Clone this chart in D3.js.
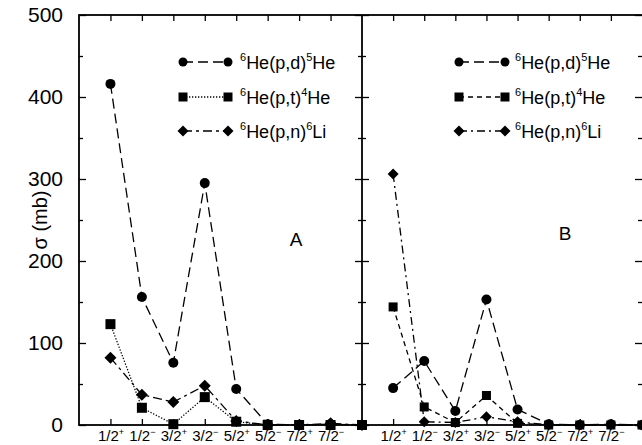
<!DOCTYPE html>
<html>
<head>
<meta charset="utf-8">
<script src="https://cdn.jsdelivr.net/npm/d3@7"></script>
<style>
  html, body { margin: 0; padding: 0; background: #fff; }
  svg { display: block; font-family: "Liberation Sans", Arial, sans-serif; }
</style>
</head>
<body>
<svg id="chart" width="642" height="445"></svg>
<script>
// spin-parity states on the x axis (number, parity)
var states = [["1/2", "+"], ["1/2", "-"], ["3/2", "+"], ["3/2", "-"],
              ["5/2", "+"], ["5/2", "-"], ["7/2", "+"], ["7/2", "-"]];

// panel A, cross sections in mb (last value sits on the panel border)
var pdA = [416, 156, 76, 295, 44, 1, 0, 1, 0];
var ptA = [123, 21, 1, 34, 4, 0, 0, 0, 0];
var pnA = [82, 37, 28, 48, 5, 0, 0, 2, 0];

// panel B
var pdB = [45, 78, 17, 153, 19, 1, 0, 1, 0];
var ptB = [144, 22, 3, 36, 2, 0, 0, 0, 0];
var pnB = [306, 4, 3, 10, 4, 0, 0, 0, 0];

var yMajor = [0, 100, 200, 300, 400, 500];
var yMinor = [50, 150, 250, 350, 450];

(function () {
  'use strict';

  var svg = d3.select('#chart');
  var top = 15, bottom = 425, left = 79, mid = 362, right = 642;

  var yScale = d3.scaleLinear().domain([0, 500]).range([bottom, top]);
  var xA = d3.scaleLinear().domain([0, 9]).range([left, mid]);
  var xB = d3.scaleLinear().domain([0, 9]).range([mid, right]);

  var tickPos = d3.range(1, states.length + 1);

  function drawPanelAxes(x, x0, x1) {
    svg.append('g')
      .attr('transform', 'translate(0,' + top + ')')
      .call(d3.axisTop(x).tickValues(tickPos).tickSize(-6).tickFormat(''));
    var bot = svg.append('g')
      .attr('transform', 'translate(0,' + bottom + ')')
      .call(d3.axisBottom(x).tickValues(tickPos).tickSize(-6).tickFormat(''));
    bot.selectAll('.tick').each(function (d) {
      var s = states[d - 1];
      var t = d3.select(this).append('text')
        .attr('y', 16)
        .attr('fill', '#000')
        .attr('font-size', 15)
        .attr('text-anchor', 'middle');
      t.append('tspan').text(s[0]);
      t.append('tspan').attr('font-size', 9).attr('dy', -6)
        .text(s[1] === '-' ? '\u2212' : '+');
    });
    // inward y ticks on both sides of the panel
    svg.append('g').attr('transform', 'translate(' + x0 + ',0)')
      .call(d3.axisLeft(yScale).tickValues(yMajor).tickSize(-7).tickFormat(''));
    svg.append('g').attr('transform', 'translate(' + x0 + ',0)')
      .call(d3.axisLeft(yScale).tickValues(yMinor).tickSize(-4).tickFormat(''));
    svg.append('g').attr('transform', 'translate(' + x1 + ',0)')
      .call(d3.axisRight(yScale).tickValues(yMajor).tickSize(-7).tickFormat(''));
    svg.append('g').attr('transform', 'translate(' + x1 + ',0)')
      .call(d3.axisRight(yScale).tickValues(yMinor).tickSize(-4).tickFormat(''));
  }

  drawPanelAxes(xA, left, mid);
  drawPanelAxes(xB, mid, right);

  svg.selectAll('.domain').remove();
  svg.selectAll('.tick line').attr('stroke', '#000').attr('stroke-width', 1.3);

  // y labels
  var ylab = svg.append('g').attr('transform', 'translate(' + left + ',0)')
    .call(d3.axisLeft(yScale).tickValues(yMajor).tickSize(0).tickPadding(16));
  ylab.select('.domain').remove();
  ylab.selectAll('text').attr('font-size', 21).attr('fill', '#000')
    .attr('font-family', '"Liberation Sans", Arial, sans-serif');

  svg.append('text')
    .attr('transform', 'translate(47,' + yScale(250) + ') rotate(-90)')
    .attr('text-anchor', 'middle')
    .attr('font-size', 20)
    .text('\u03c3 (mb)');

  // frame
  svg.append('rect')
    .attr('x', left).attr('y', top)
    .attr('width', right + 10 - left).attr('height', bottom - top)
    .attr('fill', 'none').attr('stroke', '#000').attr('stroke-width', 1.8);
  svg.append('line')
    .attr('x1', mid).attr('x2', mid).attr('y1', top).attr('y2', bottom)
    .attr('stroke', '#000').attr('stroke-width', 1.8);

  function marker(g, shape, cx, cy, size) {
    if (shape === 'circle') {
      g.append('circle').attr('cx', cx).attr('cy', cy).attr('r', size / 2);
    } else if (shape === 'square') {
      g.append('rect').attr('x', cx - size / 2).attr('y', cy - size / 2)
        .attr('width', size).attr('height', size);
    } else {
      var h = size / 2 + 1;
      g.append('path').attr('d', 'M' + cx + ',' + (cy - h) + 'L' + (cx + h) + ',' + cy +
        'L' + cx + ',' + (cy + h) + 'L' + (cx - h) + ',' + cy + 'Z');
    }
  }

  function drawSeries(x, values, shape, dash, size) {
    var lineFun = d3.line()
      .x(function (d, i) { return x(i + 1); })
      .y(function (d) { return yScale(d); });
    svg.append('path')
      .datum(values)
      .attr('d', lineFun)
      .attr('fill', 'none')
      .attr('stroke', '#000')
      .attr('stroke-width', 1.3)
      .attr('stroke-dasharray', dash);
    var g = svg.append('g').attr('fill', '#000');
    values.forEach(function (v, i) {
      marker(g, shape, x(i + 1), yScale(v), size);
    });
  }

  var seriesA = [
    { values: pdA, shape: 'circle', dash: '10,5', size: 10, name: ['6', 'He(p,d)', '5', 'He'] },
    { values: ptA, shape: 'square', dash: '1.3,1.7', size: 10, name: ['6', 'He(p,t)', '4', 'He'] },
    { values: pnA, shape: 'diamond', dash: '9,4,3,4', size: 10, name: ['6', 'He(p,n)', '6', 'Li'] }
  ];
  var seriesB = [
    { values: pdB, shape: 'circle', dash: '10,5', size: 10, name: ['6', 'He(p,d)', '5', 'He'] },
    { values: ptB, shape: 'square', dash: '5,4', size: 9, name: ['6', 'He(p,t)', '4', 'He'] },
    { values: pnB, shape: 'diamond', dash: '8,4,2,4', size: 9, name: ['6', 'He(p,n)', '6', 'Li'] }
  ];

  seriesA.forEach(function (s) { drawSeries(xA, s.values, s.shape, s.dash, s.size); });
  seriesB.forEach(function (s) { drawSeries(xB, s.values, s.shape, s.dash, s.size); });

  function drawLegend(series, x0, x1, tx) {
    var rows = [62, 97, 131];
    series.forEach(function (s, i) {
      var y = rows[i];
      svg.append('line')
        .attr('x1', x0).attr('x2', x1).attr('y1', y).attr('y2', y)
        .attr('stroke', '#000').attr('stroke-width', 1.3)
        .attr('stroke-dasharray', s.dash);
      var g = svg.append('g').attr('fill', '#000');
      marker(g, s.shape, x0, y, 9);
      marker(g, s.shape, x1, y, 9);
      var t = svg.append('text').attr('x', tx).attr('y', y + 7).attr('font-size', 18);
      t.append('tspan').attr('font-size', 11).attr('dy', -8).text(s.name[0]);
      t.append('tspan').attr('dy', 8).text(s.name[1]);
      t.append('tspan').attr('font-size', 11).attr('dy', -8).text(s.name[2]);
      t.append('tspan').attr('dy', 8).text(s.name[3]);
    });
  }

  drawLegend(seriesA, 183, 228, 240);
  drawLegend(seriesB, 459, 505, 515);

  svg.append('text').attr('x', 296).attr('y', 246)
    .attr('text-anchor', 'middle').attr('font-size', 19).text('A');
  svg.append('text').attr('x', 565).attr('y', 240)
    .attr('text-anchor', 'middle').attr('font-size', 19).text('B');
})();
</script>
</body>
</html>
